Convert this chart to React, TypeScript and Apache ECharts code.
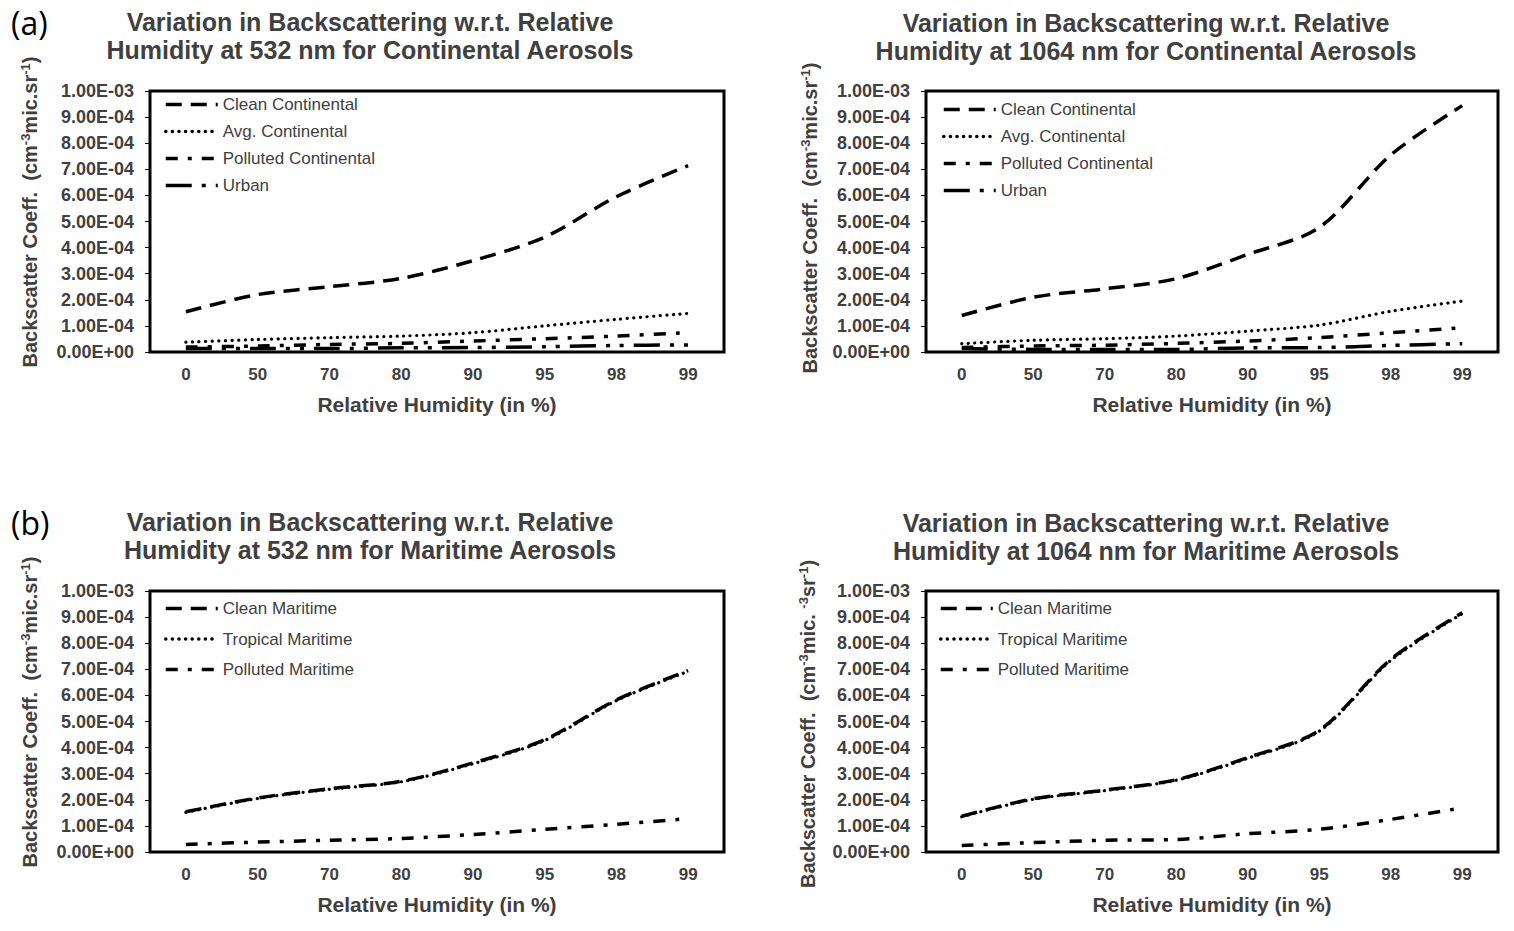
import React, { useEffect, useRef } from "react";
import * as echarts from "echarts";

const categories = ["0", "50", "70", "80", "90", "95", "98", "99"];

// (a) 532 nm continental
const cleanCont532 = [1.54e-4, 2.2e-4, 2.5e-4, 2.82e-4, 3.5e-4, 4.4e-4, 5.95e-4, 7.14e-4];
const avgCont532 = [3.8e-5, 4.8e-5, 5.5e-5, 6.1e-5, 7.4e-5, 1.0e-4, 1.25e-4, 1.48e-4];
const pollCont532 = [1.9e-5, 2.3e-5, 2.9e-5, 3.3e-5, 4.2e-5, 5.1e-5, 6.1e-5, 7.4e-5];
const urban532 = [1.3e-5, 1.3e-5, 1.3e-5, 1.6e-5, 1.7e-5, 2.0e-5, 2.5e-5, 2.7e-5];

// (a) 1064 nm continental
const cleanCont1064 = [1.4e-4, 2.1e-4, 2.42e-4, 2.81e-4, 3.74e-4, 4.77e-4, 7.55e-4, 9.44e-4];
const avgCont1064 = [3.2e-5, 4.5e-5, 5.1e-5, 6.1e-5, 8.0e-5, 1.03e-4, 1.56e-4, 1.95e-4];
const pollCont1064 = [1.7e-5, 2.3e-5, 2.6e-5, 3.3e-5, 4.2e-5, 5.5e-5, 7.4e-5, 9.3e-5];
const urban1064 = [1.3e-5, 1.0e-5, 1.0e-5, 1.0e-5, 1.6e-5, 1.7e-5, 2.5e-5, 3.2e-5];

// (b) 532 nm maritime
const cleanMar532 = [1.54e-4, 2.07e-4, 2.42e-4, 2.71e-4, 3.41e-4, 4.3e-4, 5.83e-4, 6.95e-4];
const tropMar532 = [1.52e-4, 2.05e-4, 2.4e-4, 2.69e-4, 3.38e-4, 4.27e-4, 5.8e-4, 6.92e-4];
const pollMar532 = [2.9e-5, 3.8e-5, 4.5e-5, 5.2e-5, 6.7e-5, 8.7e-5, 1.06e-4, 1.28e-4];

// (b) 1064 nm maritime
const cleanMar1064 = [1.37e-4, 2.04e-4, 2.37e-4, 2.77e-4, 3.62e-4, 4.66e-4, 7.38e-4, 9.17e-4];
const tropMar1064 = [1.35e-4, 2.02e-4, 2.35e-4, 2.75e-4, 3.59e-4, 4.63e-4, 7.34e-4, 9.13e-4];
const pollMar1064 = [2.5e-5, 3.6e-5, 4.5e-5, 4.8e-5, 7.0e-5, 8.7e-5, 1.25e-4, 1.69e-4];

const contNames = ["Clean Continental", "Avg. Continental", "Polluted Continental", "Urban"];
const marNames = ["Clean Maritime", "Tropical Maritime", "Polluted Maritime"];

const titles = [
  "Variation in Backscattering w.r.t. Relative\nHumidity at 532 nm for Continental Aerosols",
  "Variation in Backscattering w.r.t. Relative\nHumidity at 1064 nm for Continental Aerosols",
  "Variation in Backscattering w.r.t. Relative\nHumidity at 532 nm for Maritime Aerosols",
  "Variation in Backscattering w.r.t. Relative\nHumidity at 1064 nm for Maritime Aerosols",
];
const xName = "Relative Humidity (in %)";

const FONT = "'Liberation Sans', Arial, sans-serif";
const GRAY = "#404040";

const lineStyles: Record<string, any> = {
  clean: { type: [16, 9], width: 3.5, cap: "butt" },
  dotted: { type: [0.1, 6.5], width: 3.2, cap: "round" },
  polluted: { type: [12, 10, 4, 10], width: 3.5, cap: "butt" },
  urban: { type: [26, 10, 4, 10, 4, 10], width: 3.5, cap: "butt" },
};

function sci(v: number): string {
  if (Math.abs(v) < 1e-12) return "0.00E+00";
  const s = v.toExponential(2);
  const [m, e] = s.split("e");
  const sign = e[0] === "-" ? "-" : "+";
  const digits = e.replace(/[+-]/, "").padStart(2, "0");
  return `${m}E${sign}${digits}`;
}

const grids = [
  { left: 150, top: 91, width: 574, height: 261 },
  { left: 926, top: 91, width: 572, height: 261 },
  { left: 150, top: 591, width: 574, height: 261 },
  { left: 926, top: 591, width: 572, height: 261 },
];

export default function App() {
  const ref = useRef<HTMLDivElement>(null);
  useEffect(() => {
    if (!ref.current) return;
    const chart = echarts.init(ref.current, undefined, { renderer: "svg" });

    const mkSeries = (name: string, data: number[], style: any, idx: number) => ({
      type: "line",
      name,
      data,
      xAxisIndex: idx,
      yAxisIndex: idx,
      smooth: 0.3,
      symbol: "none",
      showSymbol: false,
      lineStyle: { color: "#000", width: style.width, type: style.type, cap: style.cap },
      itemStyle: { color: "#000" },
      emphasis: { disabled: true },
    });

    const series = [
      mkSeries(contNames[0], cleanCont532, lineStyles.clean, 0),
      mkSeries(contNames[1], avgCont532, lineStyles.dotted, 0),
      mkSeries(contNames[2], pollCont532, lineStyles.polluted, 0),
      mkSeries(contNames[3], urban532, lineStyles.urban, 0),
      mkSeries(contNames[0], cleanCont1064, lineStyles.clean, 1),
      mkSeries(contNames[1], avgCont1064, lineStyles.dotted, 1),
      mkSeries(contNames[2], pollCont1064, lineStyles.polluted, 1),
      mkSeries(contNames[3], urban1064, lineStyles.urban, 1),
      mkSeries(marNames[0], cleanMar532, lineStyles.clean, 2),
      mkSeries(marNames[1], tropMar532, lineStyles.dotted, 2),
      mkSeries(marNames[2], pollMar532, lineStyles.polluted, 2),
      mkSeries(marNames[0], cleanMar1064, lineStyles.clean, 3),
      mkSeries(marNames[1], tropMar1064, lineStyles.dotted, 3),
      mkSeries(marNames[2], pollMar1064, lineStyles.polluted, 3),
    ];

    const xAxes = grids.map((_, i) => ({
      type: "category",
      gridIndex: i,
      data: categories,
      boundaryGap: true,
      axisLine: { show: false },
      axisTick: { show: false },
      splitLine: { show: false },
      axisLabel: { fontSize: 17, fontWeight: "bold", color: GRAY, fontFamily: FONT, margin: 14 },
      name: xName,
      nameLocation: "middle",
      nameGap: 42,
      nameTextStyle: { fontSize: 21, fontWeight: "bold", color: GRAY, fontFamily: FONT },
    }));

    const yAxes = grids.map((_, i) => ({
      type: "value",
      gridIndex: i,
      min: 0,
      max: 0.001,
      interval: 0.0001,
      axisLine: { show: false },
      axisTick: { show: true, length: 5, lineStyle: { color: "#000", width: 1 } },
      splitLine: { show: false },
      axisLabel: {
        fontSize: 18,
        fontWeight: "bold",
        color: GRAY,
        fontFamily: FONT,
        margin: 16,
        formatter: (v: number) => sci(v),
      },
    }));

    const legendBase = {
      orient: "vertical",
      itemWidth: 52,
      itemHeight: 14,
      selectedMode: false,
      itemStyle: { color: "rgba(0,0,0,0)", borderWidth: 0, opacity: 0 },
      lineStyle: { width: 3.5 },
      textStyle: { fontSize: 17, color: GRAY, fontFamily: FONT },
    };
    const legends = [
      { ...legendBase, data: contNames, left: 159, top: 91, itemGap: 10 },
      { ...legendBase, data: contNames, left: 937, top: 96, itemGap: 10 },
      { ...legendBase, data: marNames, left: 159, top: 595, itemGap: 13.5 },
      { ...legendBase, data: marNames, left: 934, top: 595, itemGap: 13.5 },
    ];

    const titleCenters = [
      { x: 370, y: 8 },
      { x: 1146, y: 9 },
      { x: 370, y: 508 },
      { x: 1146, y: 509 },
    ];

    const supRich = {
      n: { fontSize: 20, fontWeight: "bold", fill: GRAY, fontFamily: FONT, lineHeight: 22 },
      s: { fontSize: 13, fontWeight: "bold", fill: GRAY, fontFamily: FONT, verticalAlign: "top", lineHeight: 22 },
    };
    const yNames = [
      { x: 30, y: 212, text: "{n|Backscatter Coeff.  (cm}{s|-3}{n|mic.sr}{s|-1}{n|)}" },
      { x: 810, y: 218, text: "{n|Backscatter Coeff.  (cm}{s|-3}{n|mic.sr}{s|-1}{n|)}" },
      { x: 30, y: 712, text: "{n|Backscatter Coeff.  (cm}{s|-3}{n|mic.sr}{s|-1}{n|)}" },
      { x: 808, y: 724, text: "{n|Backscatter Coeff.  (cm}{s|-3}{n|mic. }{s|-3}{n|sr}{s|-1}{n|)}" },
    ];

    const graphics: any[] = [];
    titleCenters.forEach((c, i) => {
      graphics.push({
        type: "text",
        x: c.x,
        y: c.y,
        silent: true,
        style: {
          text: titles[i],
          align: "center",
          verticalAlign: "top",
          fontSize: 25,
          lineHeight: 28,
          fontWeight: "bold",
          fontFamily: FONT,
          fill: GRAY,
        },
      });
    });
    yNames.forEach((c) => {
      graphics.push({
        type: "text",
        x: c.x,
        y: c.y,
        rotation: Math.PI / 2,
        silent: true,
        style: {
          text: c.text,
          rich: supRich,
          align: "center",
          verticalAlign: "middle",
        },
      });
    });
    graphics.push({
      type: "text",
      x: 11,
      y: 22,
      silent: true,
      style: { text: "(a)", fontSize: 32, fontFamily: "'Open Sans', sans-serif", fill: "#000", verticalAlign: "middle" },
    });
    graphics.push({
      type: "text",
      x: 11,
      y: 522,
      silent: true,
      style: { text: "(b)", fontSize: 32, fontFamily: "'Open Sans', sans-serif", fill: "#000", verticalAlign: "middle" },
    });

    chart.setOption({
      animation: false,
      backgroundColor: "#ffffff",
      grid: grids.map((g) => ({ ...g, show: true, borderColor: "#000", borderWidth: 3, backgroundColor: "transparent", containLabel: false })),
      xAxis: xAxes,
      yAxis: yAxes,
      legend: legends,
      series,
      graphic: graphics,
    });

    return () => chart.dispose();
  }, []);

  return <div ref={ref} style={{ position: "absolute", left: 0, top: 0, width: 1514, height: 931 }} />;
}
